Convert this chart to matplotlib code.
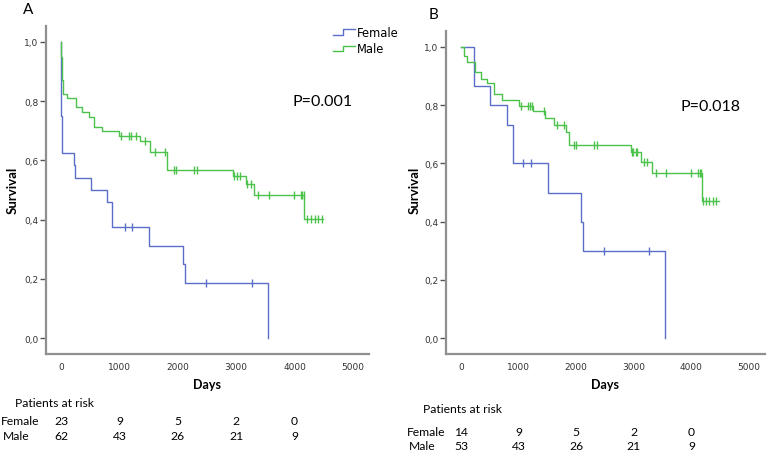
import numpy as np
import matplotlib
matplotlib.use('Agg')
import matplotlib.pyplot as plt
from matplotlib.lines import Line2D
from matplotlib.legend_handler import HandlerBase
from matplotlib.transforms import blended_transform_factory

# ---- panel A: Kaplan-Meier steps (days, survival) ----
a_female_t = [0, 3, 8, 20, 222, 240, 508, 782, 880, 1507, 2089, 2123, 3545]
a_female_s = [1.0, 0.75, 0.708, 0.625, 0.583, 0.542, 0.5, 0.458, 0.375, 0.3125, 0.25, 0.1875, 0.0]
a_female_cens = [1096, 1221, 2477, 3265]
a_male_t = [0, 3, 8, 15, 35, 107, 257, 365, 480, 570, 707, 985, 1350, 1520, 1820,
            2940, 3168, 3310, 4166, 4490]
a_male_s = [1.0, 0.95, 0.90, 0.871, 0.825, 0.810, 0.780, 0.762, 0.748, 0.714, 0.698,
            0.684, 0.666, 0.628, 0.569, 0.546, 0.519, 0.484, 0.402, 0.402]
a_male_cens = [1035, 1165, 1200, 1290, 1440, 1615, 1775, 1930, 1965, 2280, 2323, 2955,
               3008, 3065, 3185, 3248, 3380, 3562, 3992, 4115, 4135, 4155, 4207, 4281,
               4349, 4406, 4464]

# ---- panel B ----
b_female_t = [0, 231, 503, 793, 897, 1505, 2089, 2123, 3547]
b_female_s = [1.0, 0.867, 0.8, 0.733, 0.6, 0.5, 0.4, 0.3, 0.0]
b_female_cens = [1082, 1215, 2477, 3269]
b_male_t = [0, 52, 110, 243, 347, 446, 579, 706, 1012, 1250, 1460, 1610, 1822, 1877,
            2946, 3120, 3311, 4190, 4470]
b_male_s = [1.0, 0.969, 0.948, 0.912, 0.891, 0.874, 0.838, 0.817, 0.798, 0.778, 0.757,
            0.732, 0.706, 0.664, 0.64, 0.603, 0.566, 0.47, 0.47]
b_male_cens = [1040, 1167, 1196, 1234, 1441, 1660, 1793, 1970, 1993, 2311, 2363, 2965,
               2990, 3030, 3060, 3175, 3230, 3380, 3554, 3998, 4113, 4143, 4170, 4207,
               4253, 4311, 4369, 4427]

# ---- patients at risk ----
risk_times = [0, 1000, 2000, 3000, 4000]
a_risk_female = [23, 9, 5, 2, 0]
a_risk_male = [62, 43, 26, 21, 9]
b_risk_female = [14, 9, 5, 2, 0]
b_risk_male = [53, 43, 26, 21, 9]

p_values = ['P=0.001', 'P=0.018']

BLUE = '#5b6fc9'
GREEN = '#4cc24c'
SPINE = '#8f8f8f'

W, H = 771, 456
fig = plt.figure(figsize=(W / 100, H / 100), dpi=100)


def fx(px):
    return px / W


def fy(py):
    return 1 - py / H


def km(ax, t, s, cens, color):
    ax.step(t, s, where='post', color=color, lw=1.0)
    idx = np.searchsorted(t, cens, side='right') - 1
    ax.plot(cens, np.array(s)[idx], ls='none', marker='|', ms=6, mew=1.0, color=color)


def style(ax):
    ax.set_xlim(-258, 5275)
    ax.set_ylim(-0.054, 1.054)
    ax.set_xticks([0, 1000, 2000, 3000, 4000, 5000])
    ax.set_yticks([0, 0.2, 0.4, 0.6, 0.8, 1.0])
    ax.set_yticklabels(['0,0', '0,2', '0,4', '0,6', '0,8', '1,0'])
    for side in ['top', 'right']:
        ax.spines[side].set_visible(False)
    for side in ['left', 'bottom']:
        ax.spines[side].set_color(SPINE)
        ax.spines[side].set_linewidth(1.6)
    ax.tick_params(axis='y', length=4, width=1, color='#555555', pad=1.5,
                   labelsize=6.5, labelcolor='#333333')
    ax.tick_params(axis='x', length=0, pad=6, labelsize=6.5, labelcolor='#333333')


axA = fig.add_axes([fx(46), fy(355), fx(369 - 46), (355 - 27) / H])
axB = fig.add_axes([fx(446), fy(355), fx(765 - 446), (355 - 32) / H])

hf, = axA.step([], [], color=BLUE, lw=1.0, label='Female')
hm, = axA.step([], [], color=GREEN, lw=1.0, label='Male')

km(axA, a_female_t, a_female_s, a_female_cens, BLUE)
km(axA, a_male_t, a_male_s, a_male_cens, GREEN)
km(axB, b_female_t, b_female_s, b_female_cens, BLUE)
km(axB, b_male_t, b_male_s, b_male_cens, GREEN)
style(axA)
style(axB)


class StepHandler(HandlerBase):
    def create_artists(self, legend, orig_handle, xdescent, ydescent, width, height,
                       fontsize, trans):
        x0 = -xdescent
        xm = x0 + width * 0.45
        y0 = -ydescent + height * 0.15
        y1 = -ydescent + height * 0.85
        line = Line2D([x0, xm, xm, x0 + width], [y0, y0, y1, y1],
                      color=orig_handle.get_color(), lw=1.0)
        line.set_transform(trans)
        return [line]


fig.legend(handles=[hf, hm], loc='upper left', bbox_to_anchor=(fx(333), fy(27)),
           frameon=False, fontsize=8.3, handlelength=1.9, handletextpad=0.15,
           labelspacing=0.3, borderpad=0, borderaxespad=0,
           handler_map={Line2D: StepHandler()})

# panel letters, p-values, axis labels
fig.text(fx(28.5), fy(10), 'A', fontsize=11, ha='center', va='center', family='Lato')
fig.text(fx(433.5), fy(15), 'B', fontsize=11, ha='center', va='center', family='Lato')
fig.text(fx(292), fy(102), p_values[0], fontsize=11.5, ha='left', va='center', family='Lato')
fig.text(fx(680), fy(107), p_values[1], fontsize=11.5, ha='left', va='center', family='Lato')

for lx, cx in [(13, 207.5), (415, 605.5)]:
    fig.text(fx(lx), fy(190), 'Survival', rotation=90, fontsize=9.5, fontweight='bold',
             ha='center', va='center', family='Lato')
    fig.text(fx(cx), fy(385), 'Days', fontsize=9, fontweight='bold',
             ha='center', va='center', family='Lato')

# patients at risk tables
tables = [
    (axA, a_risk_female, a_risk_male, 15, 1, 404, 422, 437),
    (axB, b_risk_female, b_risk_male, 423, 407, 410, 433, 447),
]
for ax, rf, rm, px_title, px_lab, y_title, y_f, y_m in tables:
    tr = blended_transform_factory(ax.transData, fig.transFigure)
    fig.text(fx(px_title), fy(y_title), 'Patients at risk', fontsize=8.7,
             ha='left', va='center', family='Lato')
    fig.text(fx(px_lab), fy(y_f), 'Female', fontsize=8.7, ha='left', va='center', family='Lato')
    fig.text(fx(px_lab + 2), fy(y_m), 'Male', fontsize=8.7, ha='left', va='center', family='Lato')
    for t, nf, nm in zip(risk_times, rf, rm):
        ax.text(t, fy(y_f), str(nf), transform=tr, fontsize=8.7, ha='center',
                va='center', family='Lato')
        ax.text(t, fy(y_m), str(nm), transform=tr, fontsize=8.7, ha='center',
                va='center', family='Lato')

fig.savefig('out.png', dpi=100)
